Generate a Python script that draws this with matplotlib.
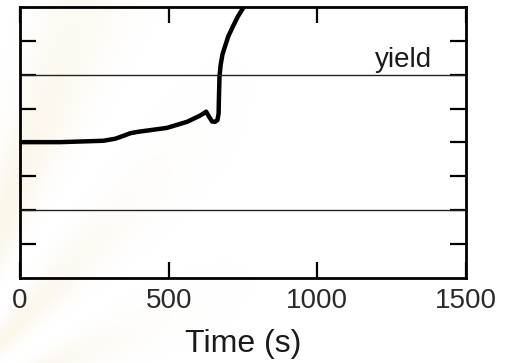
import numpy as np
import matplotlib
matplotlib.use("Agg")
import matplotlib.pyplot as plt

# creep trace read from the strain record
time_s = [0, 135, 280, 320, 346, 370, 393, 494, 562, 605, 618, 626, 636, 646, 656, 664, 668, 669, 671, 675, 681, 700, 716, 733, 750, 765]
strain = [4.01, 4.01, 4.05, 4.11, 4.19, 4.27, 4.31, 4.43, 4.61, 4.79, 4.86, 4.91, 4.76, 4.62, 4.61, 4.66, 4.85, 5.3, 5.95, 6.3, 6.6, 7.12, 7.42, 7.72, 7.96, 8.3]

yield_upper = 6.0
yield_lower = 2.0
x_ticks = [0, 500, 1000, 1500]
y_ticks = [1, 2, 3, 4, 5, 6, 7]

plt.rcParams['font.family'] = ['Liberation Sans', 'DejaVu Sans']

W, H = 518, 363
fig = plt.figure(figsize=(W / 100, H / 100), dpi=100)

# faint beige streaks on the left edge of the page
bg = fig.add_axes([0, 0, 1, 1], zorder=-1)
yy, xx = np.mgrid[0:H, 0:W].astype(float)
theta = np.arctan2(420 - yy, xx + 80)
rays = (0.5 + 0.5 * np.cos(theta * 16)) ** 1.5
fade = np.exp(-((xx + 5) / 125.0) ** 2)
alpha = 0.26 * rays * fade
img = np.zeros((H, W, 4))
img[..., 0] = 0.95
img[..., 1] = 0.88
img[..., 2] = 0.70
img[..., 3] = alpha
bg.imshow(img, aspect='auto', interpolation='bilinear')
bg.axis('off')

ax = fig.add_axes([0.0386, 0.234, 0.861, 0.747])
ax.patch.set_alpha(0)

ax.plot(time_s, strain, color='black', lw=3.2, solid_capstyle='round', solid_joinstyle='round')
ax.axhline(yield_upper, color='#222222', lw=1.0)
ax.axhline(yield_lower, color='#222222', lw=1.0)
ax.text(1386, 6.22, 'yield', ha='right', va='baseline', fontsize=20, color='#1a1a1a')

ax.set_xlim(0, 1500)
ax.set_ylim(0, 8)
ax.set_xticks(x_ticks)
ax.set_yticks(y_ticks)
ax.set_yticklabels([])
ax.tick_params(axis='both', direction='in', length=11.5, width=1.6, color='black',
               top=True, right=True)
ax.tick_params(axis='x', labelsize=20, labelcolor='#2a2a2a', pad=7)
for s in ax.spines.values():
    s.set_linewidth(2.0)

ax.set_xlabel('Time (s)', fontsize=23, color='#1a1a1a', labelpad=11)

fig.savefig('out.png', dpi=100)
